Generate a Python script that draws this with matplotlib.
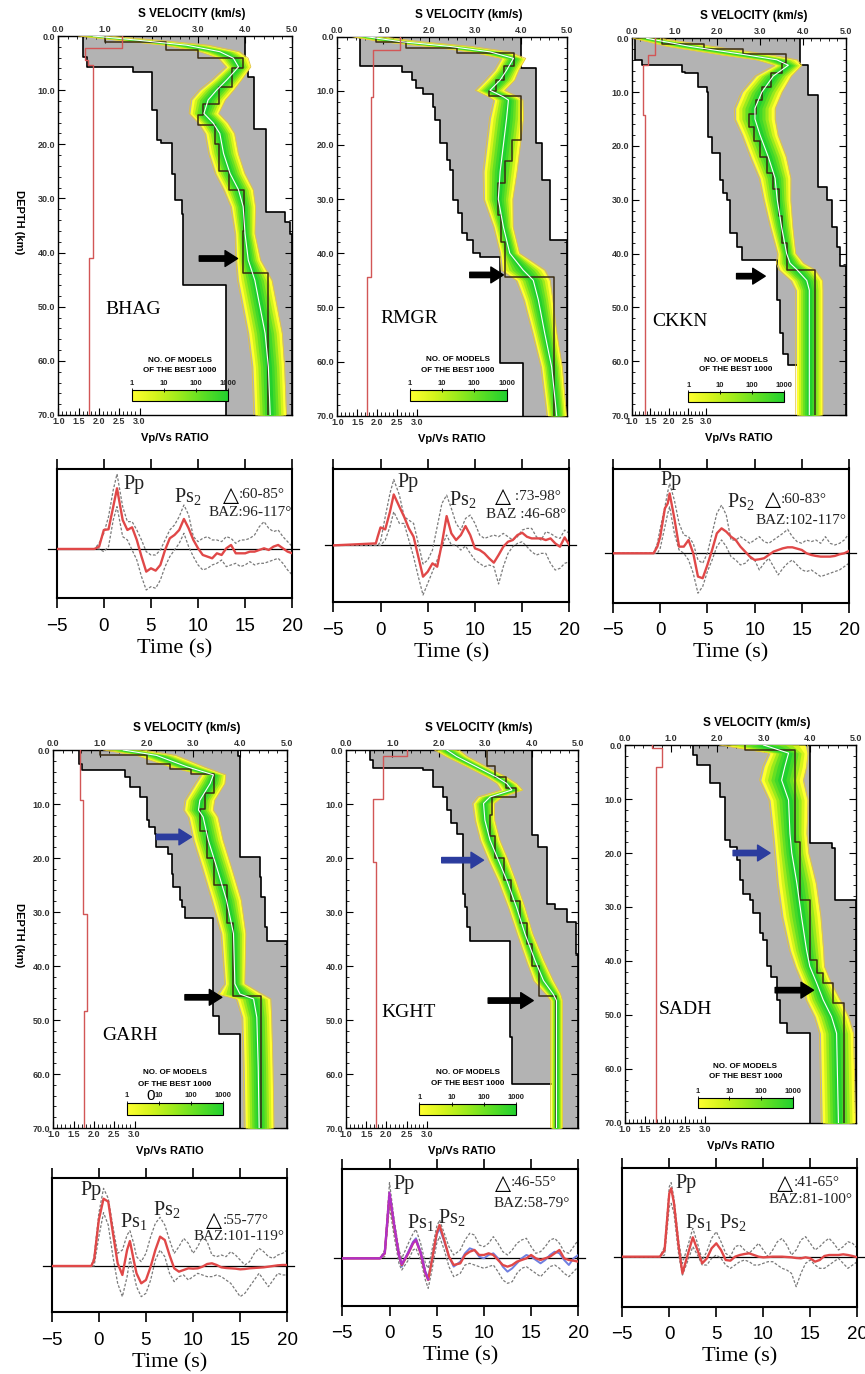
import numpy as np
import matplotlib
matplotlib.use("Agg")
import matplotlib.pyplot as plt
from matplotlib.colors import LinearSegmentedColormap, LogNorm
from matplotlib.cm import ScalarMappable
from matplotlib.ticker import MultipleLocator

plt.rcParams['font.family'] = ['Liberation Sans', 'DejaVu Sans']
plt.rcParams['mathtext.fontset'] = 'custom'
plt.rcParams['mathtext.rm'] = 'Liberation Serif'
plt.rcParams['mathtext.it'] = 'Liberation Serif:italic'

SERIF = ['Liberation Serif', 'DejaVu Serif']

STATIONS = ['BHAG', 'RMGR', 'CKKN', 'GARH', 'KGHT', 'SADH']

# ---------------------------------------------------------------- velocity models
# envelope of accepted models: top depth of each layer (km) and Vs (km/s)
BHAG_VMIN_D = [0, 3.8, 5.7, 6.6, 13.7, 19.2, 19.8, 25.4, 30.3, 32.8, 46.0]
BHAG_VMIN = [0.52, 0.62, 1.61, 2.0, 2.11, 2.21, 2.43, 2.5, 2.64, 2.68, 3.59]
BHAG_VMAX_D = [0, 6.0, 7.5, 17.1, 32.5, 34.3, 36.5]
BHAG_VMAX = [3.99, 4.07, 4.19, 4.46, 4.86, 4.96, 5.0]
BHAG_BAND_D = [0, 0.7, 1.7, 2.9, 4.1, 5.7, 8.1, 10.0, 11.8, 14.3, 16.1, 18.0, 21.7, 25.4,
               28.4, 31.5, 36.5, 41.4, 45.1, 50.0, 54.9, 61.1, 70.0]
BHAG_BAND_V = [0.75, 1.61, 2.75, 3.46, 3.75, 3.86, 3.61, 3.39, 3.21, 3.12, 3.32, 3.46, 3.54, 3.68,
               3.86, 3.96, 4.0, 4.07, 4.21, 4.32, 4.43, 4.5, 4.54]
BHAG_BAND_W = [0.3, 0.4, 0.45, 0.4, 0.3, 0.25, 0.3, 0.35, 0.35, 0.3, 0.3, 0.3, 0.3, 0.3,
               0.3, 0.25, 0.2, 0.25, 0.35, 0.35, 0.35, 0.33, 0.33]
BHAG_BEST_D = [0, 1.2, 2.5, 4.0, 6.0, 9.5, 12.5, 14.5, 16.5, 20.0, 25.0, 28.5, 36.0, 43.8]
BHAG_BEST_V = [1.0, 2.3, 3.0, 3.96, 3.72, 3.45, 3.1, 3.0, 3.35, 3.45, 3.65, 3.98, 3.95, 4.5]
BHAG_VPVS_D = [0, 2.3, 4.4, 5.3, 41.0]
BHAG_VPVS = [2.56, 1.66, 1.74, 1.85, 1.76]

RMGR_VMIN_D = [0, 5.5, 6.5, 8.0, 9.5, 10.5, 12.9, 15.4, 19.7, 22.8, 24.6, 30.2, 32.6, 36.3,
               37.6, 40.0, 40.6, 60.3]
RMGR_VMIN = [0.49, 1.40, 1.62, 1.72, 1.87, 2.09, 2.12, 2.23, 2.38, 2.45, 2.52, 2.63, 2.70, 2.81,
             2.96, 3.10, 3.54, 4.04]
RMGR_VMAX_D = [0, 5.8, 19.7, 26.5, 37.6]
RMGR_VMAX = [4.0, 4.33, 4.44, 4.62, 5.0]
RMGR_BAND_D = [0, 0.9, 1.8, 2.8, 4.0, 6.2, 8.0, 9.9, 11.1, 11.7, 15.1, 20.0, 24.9, 30.0,
               35.1, 40.0, 43.1, 45.0, 48.6, 54.8, 61.0, 70.0]
RMGR_BAND_V = [0.64, 1.36, 2.45, 3.32, 3.83, 3.68, 3.54, 3.32, 3.61, 3.72, 3.68, 3.61, 3.54, 3.5,
               3.61, 3.75, 4.04, 4.26, 4.37, 4.51, 4.66, 4.77]
RMGR_BAND_W = [0.3, 0.4, 0.45, 0.4, 0.25, 0.25, 0.3, 0.3, 0.3, 0.3, 0.35, 0.35, 0.35, 0.3,
               0.2, 0.2, 0.45, 0.35, 0.3, 0.25, 0.22, 0.2]
RMGR_BEST_D = [0, 1.0, 2.0, 3.0, 5.5, 8.0, 10.0, 11.0, 19.0, 23.0, 27.0, 33.0, 38.0, 44.3]
RMGR_BEST_V = [0.85, 1.5, 2.6, 3.85, 3.62, 3.45, 3.3, 4.0, 3.8, 3.65, 3.5, 3.55, 3.65, 4.7]
RMGR_VPVS_D = [0, 2.5, 11.1, 44.3]
RMGR_VPVS = [2.56, 1.9, 1.83, 1.75]

CKKN_VMIN_D = [0, 4.0, 5.0, 6.2, 6.5, 9.0, 9.9, 18.3, 21.4, 26.3, 28.8, 30.0, 36.2, 38.7,
               41.2, 48.6, 54.8, 58.6, 60.7]
CKKN_VMIN = [0.08, 0.23, 1.17, 1.25, 1.56, 1.75, 1.79, 1.87, 2.06, 2.14, 2.22, 2.30, 2.45, 2.57,
             3.39, 3.47, 3.54, 3.66, 3.93]
CKKN_VMAX_D = [0, 5.0, 10.5, 27.6, 30.0, 35.0, 38.7, 42.4]
CKKN_VMAX = [3.93, 4.13, 4.36, 4.56, 4.67, 4.79, 4.87, 5.0]
CKKN_BAND_D = [0, 1.5, 3.1, 4.0, 5.0, 7.0, 10.0, 13.0, 15.0, 18.0, 22.0, 26.0, 30.0, 35.0,
               40.0, 41.8, 43.0, 45.0, 46.8, 70.0]
CKKN_BAND_V = [0.35, 1.36, 2.69, 3.39, 3.66, 3.31, 3.04, 2.88, 2.88, 3.0, 3.19, 3.35, 3.4, 3.5,
               3.62, 3.7, 3.86, 4.09, 4.15, 4.15]
CKKN_BAND_W = [0.3, 0.5, 0.55, 0.45, 0.3, 0.4, 0.45, 0.45, 0.45, 0.4, 0.4, 0.35, 0.3, 0.25,
               0.2, 0.3, 0.4, 0.35, 0.3, 0.3]
CKKN_BEST_D = [0, 1.0, 2.0, 3.0, 4.5, 6.5, 9.0, 11.5, 14.0, 16.5, 19.0, 22.0, 25.0, 28.0,
               33.0, 38.0, 43.0]
CKKN_BEST_V = [0.7, 1.7, 2.6, 3.6, 3.5, 3.25, 3.05, 2.9, 2.75, 2.85, 3.0, 3.15, 3.3, 3.45,
               3.5, 3.62, 4.28]
CKKN_VPVS_D = [0, 3.1, 5.0, 14.2]
CKKN_VPVS = [1.63, 1.45, 1.31, 1.36]

GARH_VMIN_D = [0, 2.5, 3.7, 5.0, 6.8, 8.7, 13.0, 14.2, 15.5, 17.9, 19.2, 22.9, 25.4, 27.8,
               29.1, 31.2, 49.2, 52.6]
GARH_VMIN = [0.54, 0.61, 1.54, 1.64, 1.86, 2.0, 2.04, 2.18, 2.21, 2.46, 2.54, 2.57, 2.71, 2.75,
             2.82, 3.43, 3.54, 4.0]
GARH_VMAX_D = [0, 1.2, 19.8, 23.5, 27.2, 32.8, 35.3]
GARH_VMAX = [3.96, 4.0, 4.43, 4.46, 4.54, 4.57, 5.0]
GARH_BAND_D = [0, 1.0, 3.1, 4.6, 6.2, 9.3, 11.1, 12.4, 16.7, 21.7, 27.8, 34.0, 43.3, 45.2,
               46.1, 49.5, 58.8, 70.0]
GARH_BAND_V = [1.5, 2.21, 2.86, 3.43, 3.36, 3.14, 3.11, 3.21, 3.32, 3.5, 3.71, 3.86, 3.89, 4.0,
               4.29, 4.36, 4.39, 4.41]
GARH_BAND_W = [0.4, 0.4, 0.35, 0.25, 0.3, 0.3, 0.3, 0.3, 0.3, 0.3, 0.3, 0.25, 0.2, 0.45,
               0.35, 0.3, 0.3, 0.3]
GARH_BEST_D = [0, 1.0, 2.5, 3.5, 4.5, 8.0, 11.0, 15.0, 20.0, 25.0, 32.0, 45.6]
GARH_BEST_V = [1.0, 2.0, 2.5, 2.95, 3.45, 3.25, 3.15, 3.3, 3.45, 3.72, 3.86, 4.46]
GARH_VPVS_D = [0, 9.3, 30.3, 48.3]
GARH_VPVS = [1.66, 1.72, 1.84, 1.76]

KGHT_VMIN_D = [0, 1.9, 3.4, 3.7, 6.8, 8.7, 11.1, 13.6, 15.5, 26.6, 29.1, 32.8, 35.3, 53.2, 61.9]
KGHT_VMIN = [0.52, 0.59, 1.66, 1.88, 2.09, 2.17, 2.27, 2.38, 2.52, 2.56, 2.60, 2.67, 3.53, 3.57, 4.5]
KGHT_VMAX_D = [0, 15.8, 17.9, 28.5, 29.4, 31.9, 37.7]
KGHT_VMAX = [4.0, 4.14, 4.32, 4.5, 4.75, 4.96, 5.0]
KGHT_BAND_D = [0, 1.2, 3.1, 5.0, 6.2, 7.4, 8.7, 9.9, 13.0, 16.7, 20.4, 24.1, 29.1, 34.0,
               39.0, 42.7, 45.2, 46.4, 70.0]
KGHT_BAND_V = [2.17, 2.38, 2.81, 3.24, 3.46, 3.57, 3.1, 2.96, 2.99, 3.1, 3.28, 3.46, 3.67, 3.85,
               4.07, 4.25, 4.46, 4.53, 4.53]
KGHT_BAND_W = [0.25, 0.22, 0.2, 0.2, 0.2, 0.22, 0.25, 0.22, 0.2, 0.2, 0.2, 0.18, 0.17, 0.16,
               0.18, 0.2, 0.15, 0.12, 0.12]
KGHT_BEST_D = [0, 3.0, 5.0, 7.0, 8.7, 12.0, 16.0, 20.0, 24.0, 28.0, 32.0, 36.0, 40.0, 45.5]
KGHT_BEST_V = [3.03, 3.2, 3.45, 3.65, 3.15, 3.1, 3.2, 3.4, 3.55, 3.75, 3.9, 4.0, 4.15, 4.53]
KGHT_VPVS_D = [0, 1.2, 9.0, 20.7]
KGHT_VPVS = [2.5, 1.92, 1.68, 1.74]

SADH_VMIN_D = [0, 1.85, 3.7, 7.1, 9.6, 17.6, 18.8, 21.3, 25.0, 27.5, 28.7, 31.2, 34.9, 36.1,
               41.0, 42.9, 47.2, 51.5, 53.4]
SADH_VMIN = [1.48, 1.55, 1.84, 2.06, 2.16, 2.27, 2.42, 2.49, 2.56, 2.71, 2.78, 2.92, 2.99, 3.07,
             3.17, 3.28, 3.35, 3.5, 4.0]
SADH_VMAX_D = [0, 18.2, 19.1, 28.7]
SADH_VMAX = [4.0, 4.47, 4.55, 5.0]
SADH_BAND_D = [0, 1.5, 4.0, 6.5, 10.2, 16.4, 20.0, 25.6, 31.8, 38.0, 41.0, 44.1, 47.2, 50.3,
               53.4, 70.0]
SADH_BAND_V = [3.0, 3.54, 3.46, 3.39, 3.54, 3.57, 3.61, 3.72, 3.82, 3.93, 4.0, 4.15, 4.29, 4.47,
               4.58, 4.62]
SADH_BAND_W = [0.9, 0.4, 0.45, 0.45, 0.4, 0.35, 0.35, 0.4, 0.4, 0.35, 0.3, 0.3, 0.35, 0.35,
               0.35, 0.35]
SADH_BEST_D = [0, 1.0, 18.0, 28.7, 39.8, 42.3, 44.1, 47.8]
SADH_BEST_V = [2.6, 3.68, 3.79, 4.0, 4.15, 4.29, 4.51, 4.73]
SADH_VPVS_D = [0, 0.6, 4.0]
SADH_VPVS = [1.66, 1.91, 1.77]

# ---------------------------------------------------------------- receiver functions
TAIL_T = [10.0, 10.5, 11.0, 11.5, 12.0, 12.5, 13.0, 13.5, 14.0, 14.5, 15.0, 15.5, 16.0, 16.5,
          17.0, 17.5, 18.0, 18.5, 19.0, 19.5, 20.0]

BHAG_T = [-5.0, -1.0, -0.5, 0.0, 0.5, 1.0, 1.4, 2.0, 2.5, 3.0, 3.5, 4.0, 4.5, 5.0, 5.5, 6.0,
          6.5, 7.0, 7.5, 8.0, 8.5, 9.0, 9.5] + TAIL_T
BHAG_MEAN = [0, 0, 0.07, 0.57, 0.59, 1.27, 1.82, 0.87, 0.57, 0.65, 0.27, -0.23, -0.68, -0.58,
             -0.65, -0.48, -0.03, 0.32, 0.42, 0.57, 0.90, 0.62, 0.27,
             0.02, -0.18, -0.23, -0.28, -0.13, -0.18, 0.02, 0.12, -0.13, -0.13, -0.13, -0.08,
             -0.08, -0.03, 0.02, -0.03, 0.07, 0.12, 0.02, -0.08, -0.13]
BHAG_UP = [0, 0, 0.17, 0.47, 0.97, 1.77, 2.25, 1.27, 0.82, 0.82, 0.57, 0.27, -0.08, -0.18,
           -0.18, -0.03, 0.27, 0.57, 0.72, 0.97, 1.32, 1.02, 0.37,
           0.22, 0.32, 0.37, 0.27, 0.27, 0.22, 0.37, 0.32, 0.17, 0.27, 0.27, 0.32, 0.42, 0.67,
           0.82, 0.62, 0.52, 0.57, 0.37, 0.22, 0.07]
BHAG_LO = [0, 0, 0, -0.08, 0.07, 0.87, 1.27, 0.37, 0.27, -0.03, -0.33, -0.83, -1.23, -1.13,
           -1.18, -0.93, -0.53, -0.23, -0.03, 0.17, 0.47, 0.07, -0.23,
           -0.48, -0.63, -0.58, -0.48, -0.43, -0.33, -0.53, -0.48, -0.43, -0.53, -0.48, -0.38,
           -0.48, -0.43, -0.43, -0.38, -0.33, -0.28, -0.43, -0.63, -0.78]

RMGR_T = [-5.0, -0.5, -0.3, 0.0, 0.5, 1.0, 1.4, 2.0, 2.5, 3.0, 3.5, 4.0, 4.5, 5.0, 5.5, 6.0,
          6.5, 7.0, 7.5, 8.0, 8.5, 9.0, 9.5] + TAIL_T
RMGR_MEAN = [0, 0.06, 0.26, 0.54, 0.48, 1.01, 1.53, 1.16, 0.86, 0.51, 0.26, -0.34, -0.94, -0.79,
             -0.54, -0.64, 0.06, 0.88, 0.36, 0.16, 0.31, 0.58, 0.31,
             -0.09, -0.14, -0.24, -0.39, -0.52, -0.29, -0.04, 0.11, 0.16, 0.31, 0.38, 0.26, 0.21,
             0.21, 0.21, 0.16, 0.21, 0.06, -0.04, 0.24, 0.01]
RMGR_UP = [0, 0, 0, 0.11, 0.86, 1.56, 1.98, 1.51, 0.86, 0.76, 0.66, 0.06, -0.56, -0.44, -0.14,
           0.56, 1.26, 1.51, 1.11, 0.66, 0.46, 0.81, 0.91,
           0.66, 0.31, 0.21, 0.26, 0.31, 0.26, 0.36, 0.26, 0.16, 0.26, 0.46, 0.51, 0.51, 0.26,
           0.16, 0.41, 0.36, 0.26, 0.21, 0.46, 0.36]
RMGR_LO = [0, 0, 0, 0, 0.16, 0.56, 1.01, 0.66, 0.66, 0.16, -0.34, -0.94, -1.49, -1.14, -0.79,
           -0.44, -0.04, 0.31, 0.01, 0.01, -0.14, -0.02, -0.24,
           -0.44, -0.54, -0.64, -0.59, -0.64, -1.16, -0.64, -0.24, -0.04, 0.06, 0.11, -0.04,
           -0.19, -0.29, -0.24, -0.24, -0.54, -0.74, -0.69, -0.54, -0.49]

CKKN_T = [-5.0, -0.7, -0.3, 0.0, 0.5, 0.8, 1.0, 1.5, 2.0, 2.5, 3.0, 3.5, 4.0, 4.5, 5.0, 5.5,
          6.0, 6.5, 7.0, 7.5, 8.0, 8.5, 9.0, 9.5] + TAIL_T
CKKN_MEAN = [0, 0, 0.2, 0.5, 1.35, 1.5, 1.8, 1.05, 0.2, 0.2, 0.4, 0, -0.7, -0.75, -0.35, 0.1,
             0.6, 0.75, 0.65, 0.5, 0.4, 0.2, 0.05, -0.1,
             -0.2, -0.18, -0.15, -0.05, 0.05, 0.1, 0.15, 0.18, 0.18, 0.14, 0.1, 0, -0.05, -0.08,
             -0.1, -0.1, -0.1, -0.08, -0.03, 0, 0.07]
CKKN_UP = [0, 0, 0.3, 0.75, 1.4, 1.85, 2.1, 1.6, 0.9, 0.55, 0.5, 0.3, -0.2, -0.3, 0, 0.6, 1.2,
           1.45, 1.15, 0.4, 0.4, 0.5, 0.4, 0.3,
           0.4, 0.5, 0.35, 0.3, 0.4, 0.5, 0.6, 0.72, 0.5, 0.35, 0.3, 0.4, 0.35, 0.4, 0.3, 0.5,
           0.3, 0.25, 0.3, 0.4, 0.6]
CKKN_LO = [0, 0, 0, 0.15, 0.8, 1.2, 1.4, 0.6, 0.1, 0, -0.2, -0.6, -1.2, -1.0, -0.55, -0.2, 0.2,
           0.4, 0.2, -0.1, -0.2, -0.35, -0.3, -0.15,
           -0.2, -0.5, -0.3, -0.15, -0.4, -0.65, -0.45, -0.3, -0.2, -0.35, -0.5, -0.55, -0.5,
           -0.6, -0.7, -0.65, -0.6, -0.55, -0.5, -0.4, -0.3]

GARH_T = [-5.0, -0.8, -0.5, 0.0, 0.5, 1.0, 1.5, 2.0, 2.5, 3.0, 3.3, 3.7, 4.0, 4.5, 5.0, 5.5,
          6.0, 6.5, 7.0, 7.5, 8.0, 8.5, 9.0, 9.5] + TAIL_T
GARH_MEAN = [0, 0, 0.18, 1.38, 2.02, 1.93, 0.98, 0.08, -0.27, 0.48, 0.75, 0.18, -0.22, -0.52,
             -0.42, -0.02, 0.48, 0.88, 0.78, 0.33, -0.07, -0.17, -0.12, -0.07,
             -0.08, -0.07, -0.02, 0.06, 0.08, 0.03, -0.04, -0.06, -0.07, -0.08, -0.1, -0.09,
             -0.07, -0.06, -0.05, -0.04, -0.02, 0, 0.02, 0.03, 0.03]
GARH_UP = [0, 0, 0.28, 1.58, 2.33, 2.03, 1.18, 0.38, 0.48, 0.93, 1.06, 0.68, 0.28, 0.13, 0.38,
           0.88, 1.28, 1.46, 1.23, 0.78, 0.38, 0.58, 0.83, 0.68,
           0.38, 0.58, 0.88, 0.73, 0.33, 0.28, 0.33, 0.28, 0.43, 0.33, 0.18, 0.03, 0.13, 0.38,
           0.53, 0.43, 0.28, 0.23, 0.33, 0.38, 0.48]
GARH_LO = [0, 0, 0, 0.88, 1.6, 1.23, 0.28, -0.52, -0.92, -0.32, 0.23, -0.22, -0.62, -0.92,
           -0.82, -0.42, 0.18, 0.48, 0.28, -0.22, -0.47, -0.32, -0.27, -0.42,
           -0.32, -0.22, -0.27, -0.32, -0.32, -0.27, -0.32, -0.42, -0.52, -0.72, -0.92, -0.82,
           -0.62, -0.42, -0.22, -0.42, -0.62, -0.42, -0.22, -0.27, -0.27]

KGHT_T = [-5.0, -1.0, -0.5, 0.0, 0.5, 1.0, 1.3, 2.0, 2.5, 2.8, 3.3, 3.8, 4.1, 4.5, 5.0, 5.3,
          5.8, 6.3, 6.8, 7.5, 8.0, 8.5, 9.0, 9.5] + TAIL_T
KGHT_MEAN = [0, 0, 0.15, 1.9, 0.95, 0.1, -0.2, 0.15, 0.45, 0.55, 0.15, -0.45, -0.65, -0.05,
             0.75, 1.0, 0.55, 0.05, -0.2, -0.15, 0.1, 0.2, 0.25, 0.1,
             0.1, 0.15, 0.1, -0.05, -0.2, -0.25, -0.2, -0.1, -0.05, 0, 0.1, 0, -0.05, 0, 0.05,
             0.15, 0.25, 0, -0.05, -0.07, -0.1]
KGHT_BLUE = [0, 0, 0.15, 1.85, 0.95, 0.05, -0.25, 0.2, 0.5, 0.6, 0.2, -0.4, -0.57, -0.05, 0.7,
             0.9, 0.5, 0.05, -0.25, -0.1, 0.15, 0.3, 0.25, 0.05,
             0, 0.1, 0.15, 0, -0.25, -0.4, -0.3, -0.15, 0, 0.1, 0.05, -0.05, -0.15, -0.05, 0.1,
             0.2, 0.15, -0.05, -0.2, 0, 0.1]
KGHT_MAG_T = [-5.0, -1.0, -0.5, 0.0, 0.5, 1.0, 1.3, 2.0, 2.5, 2.8, 3.3, 3.8, 4.1]
KGHT_MAG = [0, 0, 0.17, 1.97, 1.0, 0.1, -0.17, 0.17, 0.47, 0.55, 0.17, -0.43, -0.63]
KGHT_UP = [0, 0, 0.25, 2.27, 1.15, 0.25, 0, 0.45, 0.75, 0.87, 0.45, -0.15, -0.3, 0.25, 0.95,
           1.15, 0.75, 0.35, 0.1, 0.25, 0.55, 0.75, 0.7, 0.4,
           0.35, 0.45, 0.65, 0.45, 0.2, 0.1, 0.25, 0.45, 0.55, 0.6, 0.35, 0.15, 0.2, 0.35, 0.55,
           0.6, 0.45, 0.2, 0.15, 0.35, 0.55]
KGHT_LO = [0, 0, 0.05, 1.55, 0.65, -0.15, -0.35, -0.05, 0.25, 0.3, -0.05, -0.65, -0.9, -0.35,
           0.45, 0.65, 0.25, -0.25, -0.55, -0.45, -0.2, -0.15, -0.2, -0.25,
           -0.3, -0.25, -0.2, -0.4, -0.65, -0.75, -0.7, -0.45, -0.3, -0.25, -0.35, -0.45, -0.55,
           -0.4, -0.25, -0.2, -0.3, -0.45, -0.55, -0.4, -0.25]

SADH_T = [-5.0, -1.0, -0.5, 0.0, 0.2, 0.5, 1.0, 1.4, 2.0, 2.5, 3.0, 3.5, 4.0, 4.5, 5.0, 5.5,
          6.0, 6.5, 7.0, 7.5, 8.0, 8.5, 9.0, 9.5] + TAIL_T
SADH_MEAN = [0, 0, 0.2, 1.9, 2.05, 1.6, 0.3, -0.5, 0.1, 0.58, 0.2, -0.2, -0.05, 0.25, 0.4, 0.2,
             -0.1, -0.12, 0, 0.05, 0.08, 0.1, 0.05, 0,
             -0.02, -0.01, 0, 0, 0, -0.01, -0.02, -0.04, -0.05, -0.02, -0.05, -0.15, -0.1, 0.02,
             0.05, 0.05, 0.05, 0.07, 0.05, 0.02, -0.02]
SADH_UP = [0, 0, 0.3, 2.1, 2.22, 1.75, 0.45, -0.2, 0.35, 0.85, 0.4, -0.1, 0.15, 0.55, 0.75,
           0.45, 0.1, 0, 0.3, 0.35, 0.2, 0.1, 0.25, 0.4,
           0.2, 0, 0.2, 0.45, 0.55, 0.35, 0.05, 0.2, 0.5, 0.6, 0.4, 0.2, 0.3, 0.45, 0.55, 0.4,
           0.2, 0.3, 0.45, 0.4, 0.25]
SADH_LO = [0, 0, 0.05, 1.5, 1.6, 1.3, 0.05, -0.55, -0.1, 0.3, 0.05, -0.25, -0.25, -0.05, 0.05,
           -0.05, -0.25, -0.35, -0.25, -0.15, -0.1, -0.15, -0.25, -0.25,
           -0.2, -0.15, -0.15, -0.25, -0.35, -0.4, -0.5, -0.9, -0.5, -0.2, -0.1, -0.25, -0.35,
           -0.35, -0.25, -0.15, -0.05, -0.2, -0.35, -0.25, -0.15]

DELTA_RANGE = [':60-85°', ' :73-98°', ':60-83°', ':55-77°', ':46-55°', ':41-65°']
BAZ_RANGE = ['BAZ:96-117°', 'BAZ :46-68°', 'BAZ:102-117°', 'BAZ:101-119°', 'BAZ:58-79°',
             'BAZ:81-100°']

# ---------------------------------------------------------------- layout (pixels)
FIG_W, FIG_H = 865, 1374
PROFILE_BOX = {
    'BHAG': (58.3, 36.0, 291.7, 415.0), 'RMGR': (337.3, 36.7, 567.3, 415.7),
    'CKKN': (631.7, 38.3, 845.7, 415.0), 'GARH': (53.3, 750.0, 286.7, 1128.0),
    'KGHT': (346.0, 750.0, 578.3, 1128.0), 'SADH': (625.0, 745.0, 856.0, 1123.0),
}
WAVE_BOX = {
    'BHAG': (56.7, 469.3, 292.3, 598.3), 'RMGR': (333.3, 468.5, 569.4, 602.3),
    'CKKN': (613.0, 468.5, 849.0, 602.5), 'GARH': (51.7, 1177.7, 287.3, 1312.3),
    'KGHT': (342.3, 1169.3, 578.3, 1306.0), 'SADH': (622.3, 1168.3, 857.3, 1306.7),
}
WAVE_YLIM = {
    'BHAG': (-1.48, 2.39), 'RMGR': (-1.71, 2.31), 'CKKN': (-1.48, 2.55),
    'GARH': (-1.39, 2.65), 'KGHT': (-1.43, 2.67), 'SADH': (-1.50, 2.65),
}
# station name position, arrows (colour, tail, head, depth), colour bar (v0, v1, d0, d1, text depths)
PROFILE_DECOR = {
    'BHAG': dict(name=(1.0, 50.6), arrows=[('k', 3.02, 3.84, 41.1)],
                 cbar=(1.57, 3.64, 65.4, 67.4), ctext=(59.9, 61.8)),
    'RMGR': dict(name=(0.93, 52.0), arrows=[('k', 2.88, 3.61, 44.0)],
                 cbar=(1.57, 3.68, 65.3, 67.2), ctext=(59.7, 61.6)),
    'CKKN': dict(name=(0.47, 52.7), arrows=[('k', 2.45, 3.12, 44.2)],
                 cbar=(1.32, 3.56, 65.7, 67.5), ctext=(59.9, 61.6)),
    'GARH': dict(name=(1.04, 52.9), arrows=[('b', 2.21, 2.96, 16.1), ('k', 2.82, 3.61, 45.8)],
                 cbar=(1.57, 3.64, 65.3, 67.5), ctext=(59.7, 61.9)),
    'KGHT': dict(name=(0.77, 48.6), arrows=[('b', 2.06, 2.96, 20.4), ('k', 3.06, 4.03, 46.4)],
                 cbar=(1.58, 3.66, 65.6, 67.5), ctext=(59.7, 61.8)),
    'SADH': dict(name=(0.72, 49.0), arrows=[('b', 2.34, 3.14, 20.0), ('k', 3.25, 4.08, 45.4)],
                 cbar=(1.57, 3.64, 65.4, 67.3), ctext=(59.6, 61.4)),
}
# phase labels: (text, t, amplitude of baseline); delta anchor (t, amp); BAZ (t, amp)
WAVE_DECOR = {
    'BHAG': dict(phases=[('Pp', 2.1, 1.79), (r'Ps$_{\mathrm{2}}$', 7.4, 1.40)],
                 delta=(14.3, 1.62), baz=(11.1, 1.09)),
    'RMGR': dict(phases=[('Pp', 1.75, 1.76), (r'Ps$_{\mathrm{2}}$', 7.3, 1.21)],
                 delta=(13.8, 1.48), baz=(11.2, 0.94)),
    'CKKN': dict(phases=[('Pp', 0.05, 2.05), (r'Ps$_{\mathrm{2}}$', 7.03, 1.40)],
                 delta=(12.74, 1.62), baz=(10.06, 1.0)),
    'GARH': dict(phases=[('Pp', -2.0, 2.13), (r'Ps$_{\mathrm{1}}$', 2.25, 1.18),
                         (r'Ps$_{\mathrm{2}}$', 5.7, 1.53)],
                 delta=(13.1, 1.38), baz=(10.03, 0.88)),
    'KGHT': dict(phases=[('Pp', 0.47, 2.07), (r'Ps$_{\mathrm{1}}$', 1.89, 0.90),
                         (r'Ps$_{\mathrm{2}}$', 5.17, 1.05)],
                 delta=(12.83, 2.27), baz=(11.0, 1.63)),
    'SADH': dict(phases=[('Pp', 0.6, 2.05), (r'Ps$_{\mathrm{1}}$', 1.67, 0.85),
                         (r'Ps$_{\mathrm{2}}$', 5.32, 0.85)],
                 delta=(13.19, 2.22), baz=(10.53, 1.7)),
}

GRAY = '#b3b3b3'
EDGE = '#e2c43c'
BEST_COLOR = '#3a2c14'
VPVS_COLOR = '#d25656'
VPVS_SCALE = 0.87  # km/s of the velocity axis per unit of Vp/Vs
MODEL_CMAP = LinearSegmentedColormap.from_list(
    'models', ['#ffff30', '#d4f41c', '#9aea1c', '#5ade24', '#22d02e'])
BAND_FRACS = [1.0, 0.84, 0.68, 0.52, 0.36, 0.2]
BAND_COLORS = [MODEL_CMAP(x) for x in (0.0, 0.25, 0.5, 0.7, 0.86, 1.0)]


def rect(box):
    x0, y0, x1, y1 = box
    return [x0 / FIG_W, 1 - y1 / FIG_H, (x1 - x0) / FIG_W, (y1 - y0) / FIG_H]


def step_path(depths, values, bottom=70.0):
    xs, ys = [], []
    for i, (d, v) in enumerate(zip(depths, values)):
        d_next = depths[i + 1] if i + 1 < len(depths) else bottom
        xs += [v, v]
        ys += [d, d_next]
    return xs, ys


def draw_profile(fig, name, box, show_depth_label):
    g = globals()
    ax = fig.add_axes(rect(box))
    ax2 = ax.twiny()  # Vp/Vs ratio scale along the bottom
    ax.set_xlim(0, 5)
    ax.set_ylim(70, 0)

    lx, ly = step_path(g[name + '_VMIN_D'], g[name + '_VMIN'])
    hx, hy = step_path(g[name + '_VMAX_D'], g[name + '_VMAX'])
    ax.fill(lx + hx[::-1], ly + hy[::-1], color=GRAY, lw=0, zorder=1)
    ax.plot(lx, ly, color='k', lw=1.2, zorder=2)
    ax.plot(hx, hy, color='k', lw=1.2, zorder=2)

    d = np.asarray(g[name + '_BAND_D'], float)
    c = np.asarray(g[name + '_BAND_V'], float)
    w = np.asarray(g[name + '_BAND_W'], float)
    for frac, col in zip(BAND_FRACS, BAND_COLORS):
        ax.fill_betweenx(d, c - frac * w, c + frac * w, color=col, lw=0, zorder=3)
    ax.plot(c - 1.06 * w, d, color=EDGE, lw=0.6, zorder=3)
    ax.plot(c + 1.06 * w, d, color=EDGE, lw=0.6, zorder=3)
    bx, by = step_path(g[name + '_BEST_D'], g[name + '_BEST_V'])
    ax.plot(bx, by, color=BEST_COLOR, lw=1.1, zorder=4)
    ax.plot(c, d, color='white', lw=0.8, zorder=5)

    dec = PROFILE_DECOR[name]
    for col, v0, v1, dep in dec['arrows']:
        colour = 'black' if col == 'k' else '#2b3c9e'
        ax.annotate('', xy=(v1, dep), xytext=(v0, dep), zorder=7,
                    arrowprops=dict(arrowstyle='simple,head_length=0.75,head_width=0.95,'
                                               'tail_width=0.32',
                                    color=colour, mutation_scale=12, shrinkA=0, shrinkB=0))
    ax.text(dec['name'][0], dec['name'][1], name, fontfamily=SERIF, fontsize=14,
            ha='left', va='center', zorder=7)

    # colour bar for the number of models
    v0, v1, d0, d1 = dec['cbar']
    cax = ax.inset_axes([v0 / 5, 1 - d1 / 70, (v1 - v0) / 5, (d1 - d0) / 70])
    sm = ScalarMappable(norm=LogNorm(1, 1000), cmap=MODEL_CMAP)
    cb = fig.colorbar(sm, cax=cax, orientation='horizontal')
    cb.outline.set_linewidth(0.8)
    cax.minorticks_off()
    cax.xaxis.set_ticks_position('top')
    cax.set_xticks([1, 10, 100, 1000], labels=['1', '10', '100', '1000'],
                   fontsize=5.5, fontweight='bold', color='#222')
    cax.tick_params(axis='x', length=3.5, width=0.6, pad=0.5, direction='inout')
    vc = 0.5 * (v0 + v1)
    ax.text(vc, dec['ctext'][0], 'NO. OF MODELS', fontsize=5.8, fontweight='bold',
            ha='center', va='center', zorder=7)
    ax.text(vc, dec['ctext'][1], 'OF THE BEST 1000', fontsize=5.8, fontweight='bold',
            ha='center', va='center', zorder=7)
    if name == 'GARH':
        ax.text(v0 + (v1 - v0) / 3 - 0.18, 64.0, '0', fontsize=11, ha='center',
                va='center', zorder=8)

    # velocity / depth axes
    ax.xaxis.set_ticks_position('top')
    ax.xaxis.set_label_position('top')
    ax.set_xticks([0, 1, 2, 3, 4, 5], labels=['0.0', '1.0', '2.0', '3.0', '4.0', '5.0'],
                  fontsize=6.5, fontweight='bold', color='#333')
    ax.xaxis.set_minor_locator(MultipleLocator(0.2))
    ax.set_yticks([0, 10, 20, 30, 40, 50, 60, 70],
                  labels=['0.0', '10.0', '20.0', '30.0', '40.0', '50.0', '60.0', '70.0'],
                  fontsize=6.5, fontweight='bold', color='#333')
    ax.yaxis.set_minor_locator(MultipleLocator(2))
    ax.tick_params(axis='x', which='both', direction='in', top=True, bottom=False,
                   labeltop=True, labelbottom=False, pad=1.5)
    ax.tick_params(axis='y', which='both', direction='in', left=True, right=True, pad=2)
    ax.tick_params(which='major', length=5, width=0.8)
    ax.tick_params(which='minor', length=2.5, width=0.6)
    for s in ax.spines.values():
        s.set_linewidth(1.0)
    ax.text(0.57, 1.058, 'S VELOCITY (km/s)', transform=ax.transAxes, ha='center',
            va='center', fontsize=8.5, fontweight='bold')

    ax2.set_xlim(1.0, 1.0 + 5 / VPVS_SCALE)
    rx, ry = step_path(g[name + '_VPVS_D'], g[name + '_VPVS'])
    ax2.plot(rx, ry, color=VPVS_COLOR, lw=1.0, zorder=2)
    ax2.xaxis.set_ticks_position('bottom')
    ax2.xaxis.set_label_position('bottom')
    ax2.set_xticks([1.0, 1.5, 2.0, 2.5, 3.0], labels=['1.0', '1.5', '2.0', '2.5', '3.0'],
                   fontsize=6.5, fontweight='bold', color='#333')
    ax2.set_xticks([1.0 + 0.1 * k for k in range(21)], minor=True)
    ax2.tick_params(axis='x', which='both', direction='in', top=False, bottom=True,
                    labeltop=False, labelbottom=True, pad=1.5)
    ax2.tick_params(which='major', length=5, width=0.8)
    ax2.tick_params(which='minor', length=3, width=0.6)
    ax2.set_xlabel('Vp/Vs RATIO', fontsize=8, fontweight='bold', labelpad=5)
    for s in ax2.spines.values():
        s.set_visible(False)

    if show_depth_label:
        x0, y0, x1, y1 = box
        fig.text(19 / FIG_W, 1 - (y0 + 0.49 * (y1 - y0)) / FIG_H, 'DEPTH (km)',
                 rotation=270, ha='center', va='center', fontsize=8, fontweight='bold')


def draw_wave(fig, idx, name, box):
    g = globals()
    ax = fig.add_axes(rect(box))
    t = g[name + '_T']
    ax.plot([-5.9, 20.7], [0, 0], color='k', lw=0.9, clip_on=False, zorder=1)
    dash = dict(color='#7a7a7a', lw=0.9, ls=(0, (2.2, 1.4)), zorder=2)
    ax.plot(t, g[name + '_UP'], **dash)
    ax.plot(t, g[name + '_LO'], **dash)
    if name == 'KGHT':
        ax.plot(t, KGHT_BLUE, color='#6f7fe0', lw=1.4, zorder=3)
    ax.plot(t, g[name + '_MEAN'], color='#e04848', lw=1.7, zorder=4)
    if name == 'KGHT':
        ax.plot(KGHT_MAG_T, KGHT_MAG, color='#b030c8', lw=1.6, zorder=5)

    ax.set_xlim(-5, 20)
    ax.set_ylim(*WAVE_YLIM[name])
    ax.set_yticks([])
    ax.set_xticks([-5, 0, 5, 10, 15, 20])
    ax.tick_params(axis='x', direction='out', length=7, width=1.2, top=True, bottom=True,
                   labeltop=False, labelsize=13.5, pad=7)
    for s in ax.spines.values():
        s.set_linewidth(1.5)
    ax.set_xlabel('Time (s)', fontfamily=SERIF, fontsize=16, labelpad=3)

    dec = WAVE_DECOR[name]
    for txt, tx, amp in dec['phases']:
        ax.text(tx, amp, txt, fontfamily=SERIF, fontsize=14.5, ha='left', va='baseline',
                color='#222', zorder=6)
    dt, da = dec['delta']
    ax.text(dt, da, '△', fontfamily=['DejaVu Sans'], fontsize=15, fontweight='bold',
            ha='right', va='center', zorder=6)
    ax.text(dt, da, DELTA_RANGE[idx], fontfamily=SERIF, fontsize=11, ha='left',
            va='center', color='#222', zorder=6)
    bt, ba = dec['baz']
    ax.text(bt, ba, BAZ_RANGE[idx], fontfamily=SERIF, fontsize=11, ha='left', va='center',
            color='#222', zorder=6)


fig = plt.figure(figsize=(FIG_W / 100, FIG_H / 100), dpi=100)
for i, st in enumerate(STATIONS):
    draw_profile(fig, st, PROFILE_BOX[st], show_depth_label=(i % 3 == 0))
    draw_wave(fig, i, st, WAVE_BOX[st])

fig.savefig('out.png', dpi=100)
